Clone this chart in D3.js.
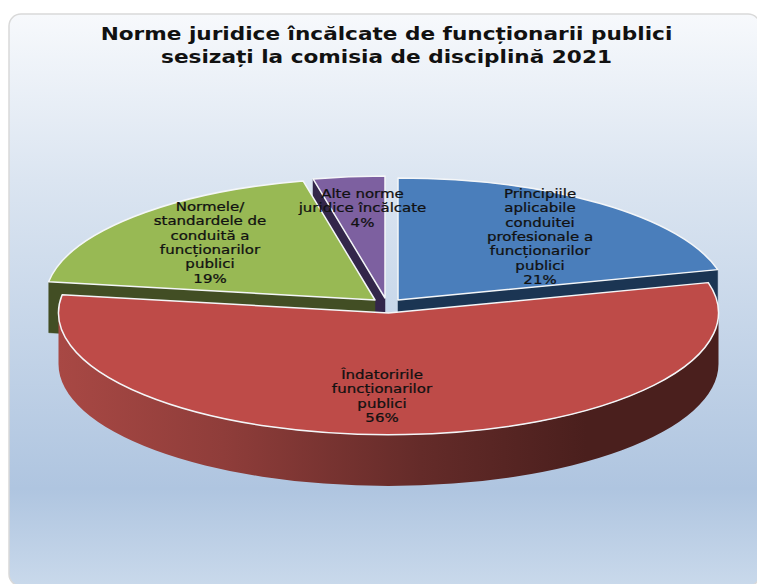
<!DOCTYPE html>
<html lang="ro">

<head>
  <meta charset="utf-8">
  <title>Norme juridice</title>
  <script src="https://d3js.org/d3.v7.min.js"></script>
  <style>
    html, body { margin: 0; padding: 0; background: #fff; overflow: hidden; }
    svg { display: block; }
    text { font-family: "DejaVu Sans", sans-serif; fill: #111; }
    .titlu { font-size: 18px; font-weight: bold; text-anchor: middle; }
    .eticheta { font-size: 12.5px; text-anchor: middle; stroke: #111; stroke-width: 0.25px; }
  </style>
</head>

<body>
  <div id="chart"></div>

  <script type="text/javascript">
    "use strict"

    var titlu = ["Norme juridice încălcate de funcționarii publici", "sesizați la comisia de disciplină 2021"];
    var categorii = [
      ["Principiile", "aplicabile", "conduitei", "profesionale a", "funcționarilor", "publici"],
      ["Îndatoririle", "funcționarilor", "publici"],
      ["Normele/", "standardele de", "conduită a", "funcționarilor", "publici"],
      ["Alte norme", "juridice încălcate"]
    ];
    var valori = [21, 56.4, 19.1, 3.5];
    var procente = ["21%", "56%", "19%", "4%"];

    // culori si pozitii, separate de date
    var culori = ["#4a7ebb", "#be4b48", "#98b954", "#7d60a0"];
    var culoriTaiere = ["#1b3553", "#4a1f1d", "#424e24", "#33264a"];
    var desprindere = [[9.5, -13], [0, 0], [-13.5, -13], [-3.5, -15]];
    var pozEtichete = [[540, 198], [382, 379], [210, 211], [362.5, 198]];
    var ordine = [3, 2, 0, 1]; // red e desenat ultimul, peste celelalte

    var larguraSVG = 757, alturaSVG = 584;
    var cx = 388.5, cy = 313, rx = 330, ry = 122, adancime = 51;

    var svg = d3.select("#chart").append("svg")
      .attr("width", larguraSVG)
      .attr("height", alturaSVG);

    var defs = svg.append("defs");

    var fundal = defs.append("linearGradient")
      .attr("id", "fundal")
      .attr("gradientUnits", "userSpaceOnUse")
      .attr("x1", 0).attr("x2", 0).attr("y1", 14).attr("y2", 586);
    [[0, "#f7f9fc"], [0.29, "#dbe5f1"], [0.83, "#afc5e0"], [1, "#c9d9eb"]].forEach(function(s) {
      fundal.append("stop").attr("offset", s[0]).attr("stop-color", s[1]);
    });

    var perete = defs.append("linearGradient")
      .attr("id", "perete")
      .attr("gradientUnits", "userSpaceOnUse")
      .attr("x1", cx - rx).attr("x2", cx + rx).attr("y1", 0).attr("y2", 0);
    [[0, "#a84844"], [0.25, "#8f3d3a"], [0.55, "#642b29"], [0.8, "#4a1f1d"], [1, "#4a1f1d"]].forEach(function(s) {
      perete.append("stop").attr("offset", s[0]).attr("stop-color", s[1]);
    });

    svg.append("rect")
      .attr("x", 9).attr("y", 14)
      .attr("width", 751).attr("height", 572)
      .attr("rx", 12)
      .attr("fill", "url(#fundal)")
      .attr("stroke", "#d9d9d9")
      .attr("stroke-width", 1.5);

    svg.selectAll(".titlu")
      .data(titlu)
      .enter()
      .append("text")
        .attr("class", "titlu")
        .attr("transform", (d, i) => "translate(386.5," + (40 + i * 23) + ") scale(1.2,1)")
        .text(d => d);

    var felii = d3.pie().sort(null)(valori);
    var arc = d3.arc().innerRadius(0).outerRadius(1);

    function punct(unghi, ox, oy, dy) {
      return [ox + rx * Math.sin(unghi), oy - ry * Math.cos(unghi) + dy];
    }

    // fata de taiere radiala, daca e vazuta din fata
    function fataTaiere(unghi, ox, oy) {
      var a = punct(unghi, ox, oy, 0), b = punct(unghi, ox, oy, adancime);
      return "M" + ox + "," + oy + "L" + a + "L" + b + "L" + ox + "," + (oy + adancime) + "Z";
    }

    // peretele exterior, doar partea de jos a elipsei
    function pereteExterior(f, ox, oy) {
      var s = Math.max(f.startAngle, Math.PI / 2), e = Math.min(f.endAngle, 3 * Math.PI / 2);
      if (e <= s) return null;
      var a = punct(s, ox, oy, 0), b = punct(e, ox, oy, 0), c = punct(e, ox, oy, adancime), d = punct(s, ox, oy, adancime);
      return "M" + a + "A" + rx + "," + ry + " 0 0 1 " + b + "L" + c + "A" + rx + "," + ry + " 0 0 0 " + d + "Z";
    }

    ordine.forEach(function(i) {
      var f = felii[i];
      var ox = cx + desprindere[i][0], oy = cy + desprindere[i][1];
      var g = svg.append("g");

      var fete = [];
      if (Math.sin(f.startAngle) < -0.001) fete.push(f.startAngle);
      if (Math.sin(f.endAngle) > 0.001) fete.push(f.endAngle);
      fete.forEach(function(u) {
        g.append("path")
          .attr("d", fataTaiere(u, ox, oy))
          .attr("fill", culoriTaiere[i])
          .attr("stroke", culoriTaiere[i])
          .attr("stroke-width", 0.5);
      });

      var p = pereteExterior(f, ox, oy);
      if (p) {
        g.append("path").attr("d", p).attr("fill", "url(#perete)");
      }

      g.append("path")
        .attr("d", arc(f))
        .attr("transform", "translate(" + ox + "," + oy + ") scale(" + rx + "," + ry + ")")
        .attr("fill", culori[i])
        .attr("stroke", "#f4f6f8")
        .attr("stroke-width", 1.5)
        .attr("vector-effect", "non-scaling-stroke")
        .attr("stroke-linejoin", "round");
    });

    categorii.forEach(function(linii, i) {
      var tot = linii.concat([procente[i]]);
      svg.append("g")
        .selectAll("text")
        .data(tot)
        .enter()
        .append("text")
          .attr("class", "eticheta")
          .attr("transform", (d, j) => "translate(" + pozEtichete[i][0] + "," + (pozEtichete[i][1] + j * 14.3) + ") scale(1.2,1)")
          .text(d => d);
    });
  </script>
</body>

</html>
